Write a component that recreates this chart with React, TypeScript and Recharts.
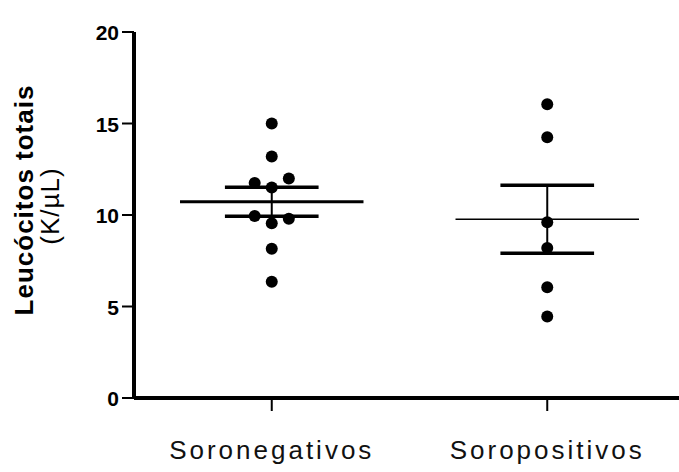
import { ScatterChart, Scatter, XAxis, YAxis, ReferenceLine } from 'recharts';

const categories = ['Soronegativos', 'Soropositivos'];
const soronegativos = [15.0, 13.2, 11.75, 12.0, 11.5, 9.95, 9.55, 9.8, 8.15, 6.35];
const soronegativosJitter = [0, 0, -0.062, 0.062, 0, -0.062, 0, 0.062, 0, 0];
const soropositivos = [16.05, 14.25, 9.6, 8.2, 6.05, 4.45];
const soropositivosJitter = [0, 0, 0, 0, 0, 0];
const yTicks = [0, 5, 10, 15, 20];

const FONT = '"Liberation Sans", Arial, sans-serif';

const toPoints = (values: number[], jitter: number[], pos: number) =>
  values.map((v, i) => ({ x: pos + jitter[i], y: v }));

// mean and standard error of the mean
const stats = (values: number[]) => {
  const n = values.length;
  const mean = values.reduce((a, b) => a + b, 0) / n;
  const sd = Math.sqrt(values.reduce((a, b) => a + (b - mean) ** 2, 0) / (n - 1));
  return { mean, sem: sd / Math.sqrt(n) };
};

const groups = [
  { pos: 1, values: soronegativos, jitter: soronegativosJitter, meanWidth: 3 },
  { pos: 2, values: soropositivos, jitter: soropositivosJitter, meanWidth: 1.5 },
];

const Dot = (props: any) => <circle cx={props.cx} cy={props.cy} r={6} fill="#000" />;

const XTick = ({ x, y, payload }: any) => (
  <text
    x={x}
    y={y + 46}
    textAnchor="middle"
    fontFamily={FONT}
    fontSize={26}
    letterSpacing={3}
    fill="#111"
  >
    {categories[payload.value - 1]}
  </text>
);

const YTick = ({ x, y, payload }: any) => (
  <text
    x={x}
    y={y}
    dy={8}
    textAnchor="end"
    fontFamily={FONT}
    fontSize={21}
    fontWeight="bold"
    fill="#000"
  >
    {payload.value}
  </text>
);

const YLabel = () => (
  <g fontFamily={FONT} fontSize={26} fontWeight="bold" fill="#000" letterSpacing={1}>
    <text x={33} y={200} textAnchor="middle" transform="rotate(-90 33 200)">
      Leucócitos totais
    </text>
    <text x={59} y={206} textAnchor="middle" transform="rotate(-90 59 206)" fontWeight="normal">
      (K/µL)
    </text>
  </g>
);

export default function App() {
  return (
    <div style={{ position: 'absolute', left: 0, top: 0, width: 679, height: 472, overflow: 'hidden', background: '#fff' }}>
      <ScatterChart width={685} height={472} margin={{ top: 32, right: 0, bottom: 0, left: 0 }}>
        <XAxis
          type="number"
          dataKey="x"
          domain={[0.5, 2.5]}
          ticks={[1, 2]}
          height={74}
          axisLine={{ stroke: '#000', strokeWidth: 4 }}
          tickLine={{ stroke: '#000', strokeWidth: 2 }}
          tickSize={13}
          tick={<XTick />}
          allowDataOverflow
        />
        <YAxis
          type="number"
          dataKey="y"
          domain={[0, 20]}
          ticks={yTicks}
          width={134}
          axisLine={{ stroke: '#000', strokeWidth: 4 }}
          tickLine={{ stroke: '#000', strokeWidth: 2 }}
          tickSize={12}
          tickMargin={3}
          tick={<YTick />}
          label={{ content: () => <YLabel /> }}
        />
        {groups.map((g) => (
          <Scatter
            key={g.pos}
            data={toPoints(g.values, g.jitter, g.pos)}
            shape={<Dot />}
            isAnimationActive={false}
          />
        ))}
        {groups.map((g) => {
          const { mean, sem } = stats(g.values);
          return [
            <ReferenceLine
              key={`m${g.pos}`}
              segment={[{ x: g.pos - 0.333, y: mean }, { x: g.pos + 0.333, y: mean }]}
              stroke="#000"
              strokeWidth={g.meanWidth}
            />,
            <ReferenceLine
              key={`u${g.pos}`}
              segment={[{ x: g.pos - 0.17, y: mean + sem }, { x: g.pos + 0.17, y: mean + sem }]}
              stroke="#000"
              strokeWidth={3.5}
            />,
            <ReferenceLine
              key={`l${g.pos}`}
              segment={[{ x: g.pos - 0.17, y: mean - sem }, { x: g.pos + 0.17, y: mean - sem }]}
              stroke="#000"
              strokeWidth={3.5}
            />,
            <ReferenceLine
              key={`v${g.pos}`}
              segment={[{ x: g.pos, y: mean - sem }, { x: g.pos, y: mean + sem }]}
              stroke="#000"
              strokeWidth={2}
            />,
          ];
        })}
      </ScatterChart>
    </div>
  );
}
